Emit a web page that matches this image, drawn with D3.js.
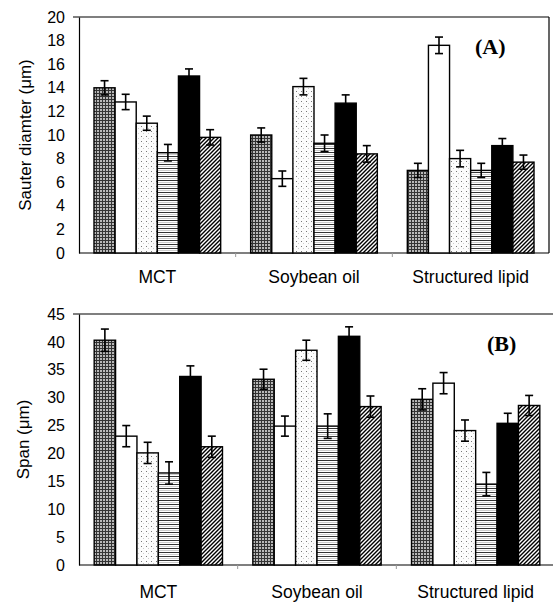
<!DOCTYPE html>
<html>
<head>
<meta charset="utf-8">
<script src="https://cdn.jsdelivr.net/npm/d3@7.9.0/dist/d3.min.js"></script>
<style>
  body { margin: 0; background: #fff; }
  svg { display: block; font-family: "Liberation Sans", Arial, sans-serif; }
</style>
</head>
<body>
<svg id="chart" width="553" height="602"></svg>
<script>
// data
const categories = ['MCT', 'Soybean oil', 'Structured lipid'];
const seriesKeys = ['s1', 's2', 's3', 's4', 's5', 's6']; // crosshatch, white, dots, horizontal, black, diagonal

const sauterValues = [
  [14.0, 12.8, 11.0, 8.5, 15.0, 9.8],
  [10.0, 6.3, 14.1, 9.3, 12.7, 8.4],
  [7.0, 17.6, 8.0, 7.0, 9.1, 7.7]
];
const sauterErrors = [
  [0.6, 0.65, 0.6, 0.7, 0.6, 0.65],
  [0.6, 0.65, 0.7, 0.7, 0.7, 0.7],
  [0.6, 0.7, 0.7, 0.6, 0.6, 0.6]
];
const spanValues = [
  [40.3, 23.1, 20.1, 16.5, 33.8, 21.2],
  [33.3, 24.9, 38.5, 24.9, 41.0, 28.4],
  [29.7, 32.6, 24.1, 14.5, 25.4, 28.6]
];
const spanErrors = [
  [2.0, 1.9, 1.9, 2.0, 1.9, 1.9],
  [1.8, 1.8, 1.8, 2.2, 1.7, 1.9],
  [1.9, 1.9, 1.9, 2.1, 1.8, 1.8]
];
const sauterTicks = [0, 2, 4, 6, 8, 10, 12, 14, 16, 18, 20];
const spanTicks = [0, 5, 10, 15, 20, 25, 30, 35, 40, 45];

const svg = d3.select('#chart');
const defs = svg.append('defs');

// fill patterns, one per series
function makePattern(id, w, h, draw) {
  const p = defs.append('pattern').attr('id', id)
    .attr('patternUnits', 'userSpaceOnUse').attr('width', w).attr('height', h);
  draw(p);
}
makePattern('p1', 3, 3, p => {
  p.append('rect').attr('width', 3).attr('height', 3).attr('fill', '#b8b8b8');
  p.append('rect').attr('width', 3).attr('height', 1).attr('fill', '#333');
  p.append('rect').attr('width', 1).attr('height', 3).attr('fill', '#333');
});
makePattern('p2', 4, 4, p => {
  p.append('rect').attr('width', 4).attr('height', 4).attr('fill', '#fff');
});
makePattern('p3', 5, 5, p => {
  p.append('rect').attr('width', 5).attr('height', 5).attr('fill', '#fcfcfc');
  p.append('rect').attr('x', 1).attr('y', 1).attr('width', 1).attr('height', 1).attr('fill', '#777');
  p.append('rect').attr('x', 3).attr('y', 3).attr('width', 1).attr('height', 1).attr('fill', '#ccc');
});
makePattern('p4', 4, 4, p => {
  p.append('rect').attr('width', 4).attr('height', 4).attr('fill', '#fff');
  p.append('rect').attr('y', 0).attr('width', 4).attr('height', 1).attr('fill', '#333');
  p.append('rect').attr('y', 2).attr('width', 4).attr('height', 1).attr('fill', '#ccc');
});
makePattern('p5', 4, 4, p => {
  p.append('rect').attr('width', 4).attr('height', 4).attr('fill', '#000');
});
makePattern('p6', 4, 4, p => {
  p.append('rect').attr('width', 4).attr('height', 4).attr('fill', '#fff');
  p.append('path').attr('d', 'M-1,1 L1,-1 M0,4 L4,0 M3,5 L5,3')
    .attr('stroke', '#000').attr('stroke-width', 1.4);
});

function drawPanel(cfg) {
  const g = svg.append('g');
  const x0 = d3.scaleBand().domain(categories).range([cfg.left, cfg.right]).paddingInner(0).paddingOuter(0);
  const x1 = d3.scaleBand().domain(seriesKeys).range([0, x0.bandwidth()]).paddingInner(0).paddingOuter(0.71);
  const y = d3.scaleLinear().domain([0, cfg.max]).range([cfg.bottom, cfg.top]);

  // frame
  g.append('line').attr('x1', cfg.left - 6).attr('x2', cfg.frameRight)
    .attr('y1', cfg.top).attr('y2', cfg.top).attr('stroke', '#000').attr('stroke-width', 1.2);
  if (cfg.rightBorder) {
    g.append('line').attr('x1', cfg.right).attr('x2', cfg.right)
      .attr('y1', cfg.top).attr('y2', cfg.bottom).attr('stroke', '#000').attr('stroke-width', 1.2);
  }

  // y axis
  const yAxis = g.append('g').attr('transform', `translate(${cfg.left},0)`)
    .call(d3.axisLeft(y).tickValues(cfg.ticks).tickSize(0).tickPadding(14));
  yAxis.select('.domain').attr('stroke', '#000').attr('stroke-width', 1.2);
  yAxis.selectAll('text').attr('font-size', 16).attr('fill', '#000')
    .attr('font-family', '"Liberation Sans", Arial, sans-serif');

  // x axis
  g.append('line').attr('x1', cfg.left).attr('x2', cfg.frameRight)
    .attr('y1', cfg.bottom).attr('y2', cfg.bottom).attr('stroke', '#000').attr('stroke-width', 1.2);
  categories.slice(1).forEach(c => {
    g.append('line').attr('x1', x0(c)).attr('x2', x0(c))
      .attr('y1', cfg.bottom).attr('y2', cfg.bottom + 4).attr('stroke', '#999');
  });
  categories.forEach(c => {
    g.append('text').attr('x', x0(c) + x0.bandwidth() / 2).attr('y', cfg.bottom + cfg.catDy)
      .attr('text-anchor', 'middle').attr('font-size', 17.5).text(c);
  });

  // bars
  categories.forEach((c, ci) => {
    seriesKeys.forEach((k, si) => {
      const v = cfg.values[ci][si];
      const bx = x0(c) + x1(k);
      g.append('rect').attr('x', bx).attr('y', y(v))
        .attr('width', x1.bandwidth()).attr('height', y(0) - y(v))
        .attr('fill', `url(#p${si + 1})`).attr('stroke', '#000').attr('stroke-width', 1.4);
    });
  });

  // error bars
  categories.forEach((c, ci) => {
    seriesKeys.forEach((k, si) => {
      const v = cfg.values[ci][si], e = cfg.errors[ci][si];
      const cx = x0(c) + x1(k) + x1.bandwidth() / 2;
      const eg = g.append('g').attr('stroke', '#000').attr('stroke-width', 1.6);
      eg.append('line').attr('x1', cx).attr('x2', cx).attr('y1', y(v + e)).attr('y2', y(v - e));
      eg.append('line').attr('x1', cx - 4).attr('x2', cx + 4).attr('y1', y(v + e)).attr('y2', y(v + e));
      eg.append('line').attr('x1', cx - 4).attr('x2', cx + 4).attr('y1', y(v - e)).attr('y2', y(v - e));
    });
  });

  // y title
  g.append('text').attr('transform', `translate(${cfg.titleX},${(cfg.top + cfg.bottom) / 2}) rotate(-90)`)
    .attr('text-anchor', 'middle').attr('font-size', 17).text(cfg.title);

  // panel label
  g.append('text').attr('x', cfg.labelX).attr('y', cfg.labelY)
    .attr('font-family', '"Liberation Serif", "Times New Roman", serif')
    .attr('font-weight', 'bold').attr('font-size', 22).text(cfg.label);
}

drawPanel({
  left: 79, right: 549, frameRight: 549, top: 17, bottom: 253, max: 20,
  ticks: sauterTicks, values: sauterValues, errors: sauterErrors, catDy: 30,
  title: 'Sauter diamter (\u03bcm)', titleX: 31, label: '(A)', labelX: 475, labelY: 54,
  rightBorder: true
});
drawPanel({
  left: 79, right: 555, frameRight: 553, top: 314, bottom: 565, max: 45,
  ticks: spanTicks, values: spanValues, errors: spanErrors, catDy: 33,
  title: 'Span (\u03bcm)', titleX: 29, label: '(B)', labelX: 487, labelY: 351,
  rightBorder: false
});
</script>
</body>
</html>
